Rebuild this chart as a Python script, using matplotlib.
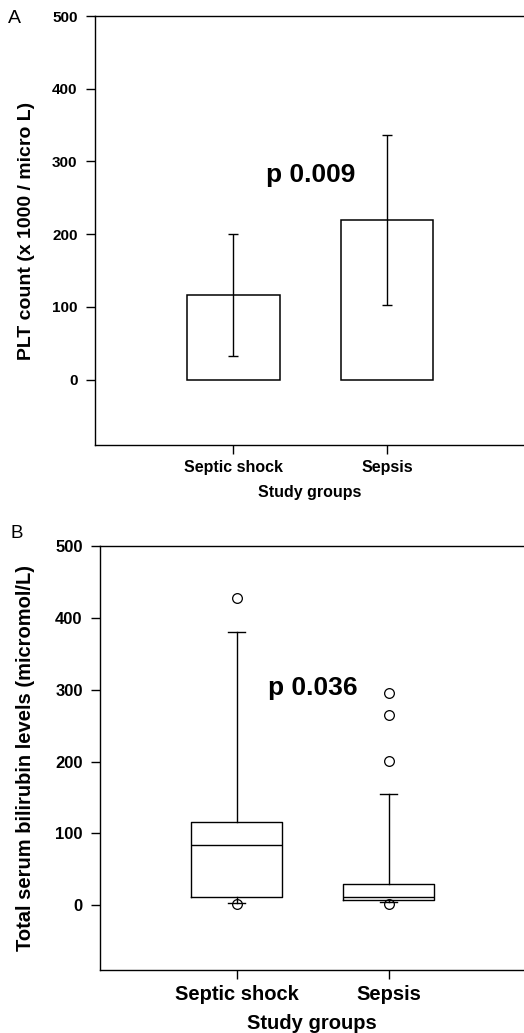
#!/usr/bin/env python3
"""
Platelet count (bar + SD) and total serum bilirubin (box plot)
for septic shock vs sepsis patients.
"""

import matplotlib
matplotlib.use("Agg")
import matplotlib.pyplot as plt

plt.rcParams["font.family"] = ["Liberation Sans", "DejaVu Sans"]

# Study groups
GROUPS = ["Septic shock", "Sepsis"]

# Panel A: PLT count (x 1000 / micro L), mean and SD
PLT_MEAN = [116, 219]
PLT_SD = [84, 117]
PLT_P = "p 0.009"

# Panel B: total serum bilirubin (micromol/L), box plot summaries
BILI_Q1 = [11, 7]
BILI_MEDIAN = [84, 11]
BILI_Q3 = [116, 30]
BILI_WHISKER_LOW = [3, 4]
BILI_WHISKER_HIGH = [380, 155]
BILI_OUTLIERS = [[427, 2], [296, 265, 201, 2]]
BILI_P = "p 0.036"

Y_TICKS = [0, 100, 200, 300, 400, 500]


def style_axes(ax, tick_size, xlab_size):
    ax.spines["right"].set_visible(False)
    for s in ["left", "top", "bottom"]:
        ax.spines[s].set_linewidth(1.0)
    ax.set_xlim(0.1, 2.89)
    ax.set_ylim(-90, 500)
    ax.set_yticks(Y_TICKS)
    ax.set_xticks([1, 2])
    ax.set_xticklabels(GROUPS)
    ax.tick_params(axis="y", direction="out", length=6.5, width=1.0, pad=6,
                   labelsize=tick_size)
    ax.tick_params(axis="x", direction="out", length=6.5, width=1.0, pad=4,
                   labelsize=xlab_size)
    for lab in ax.get_yticklabels() + ax.get_xticklabels():
        lab.set_fontweight("bold")
    # x label sits a bit lower than the default
    ax.set_xlabel("Study groups", fontsize=xlab_size, fontweight="bold", labelpad=7.5)


def plot_platelets(fig):
    ax = fig.add_axes([95 / 524, 1 - 445 / 1033, 1 - 95 / 524, (445 - 16) / 1033])
    ax.bar([1, 2], PLT_MEAN, width=0.6, color="white", edgecolor="black",
           linewidth=1.1, zorder=2)
    ax.errorbar([1, 2], PLT_MEAN, yerr=PLT_SD, fmt="none", ecolor="black",
                elinewidth=1.0, capsize=3.3, capthick=1.0, zorder=3)
    ax.text(1.5, 272, PLT_P, ha="center", va="baseline", fontsize=19,
            fontweight="bold")
    style_axes(ax, tick_size=11, xlab_size=11.5)
    ax.set_ylabel("PLT count (x 1000 / micro L)", fontsize=14, fontweight="bold")
    ax.yaxis.set_label_coords(-0.14, 0.5)
    fig.text(8 / 524, 1 - 23 / 1033, "A", fontsize=14, ha="left", va="baseline")


def plot_bilirubin(fig):
    ax = fig.add_axes([100 / 524, 1 - 970 / 1033, 1 - 100 / 524, (970 - 546) / 1033])
    stats = []
    for i, name in enumerate(GROUPS):
        stats.append({
            "label": name,
            "q1": BILI_Q1[i],
            "med": BILI_MEDIAN[i],
            "q3": BILI_Q3[i],
            "whislo": BILI_WHISKER_LOW[i],
            "whishi": BILI_WHISKER_HIGH[i],
            "fliers": BILI_OUTLIERS[i],
        })
    line = dict(color="black", linewidth=1.0)
    ax.bxp(stats, positions=[1, 2], widths=0.6, capwidths=0.11,
           boxprops=line, medianprops=line, whiskerprops=line, capprops=line,
           flierprops=dict(marker="o", markersize=7, markerfacecolor="none",
                           markeredgecolor="black", markeredgewidth=0.9))
    ax.text(1.5, 292, BILI_P, ha="center", va="baseline", fontsize=19,
            fontweight="bold")
    style_axes(ax, tick_size=12, xlab_size=14.5)
    ax.set_xticklabels(GROUPS, fontweight="bold")
    ax.set_ylabel("Total serum bilirubin levels (micromol/L)", fontsize=14.5,
                  fontweight="bold")
    ax.yaxis.set_label_coords(-0.153, 0.5)
    fig.text(10 / 524, 1 - 538 / 1033, "B", fontsize=13.5, ha="left", va="baseline")


def main():
    fig = plt.figure(figsize=(5.24, 10.33), dpi=100)
    plot_platelets(fig)
    plot_bilirubin(fig)
    fig.savefig("out.png", dpi=100)
    plt.close(fig)


if __name__ == "__main__":
    main()
